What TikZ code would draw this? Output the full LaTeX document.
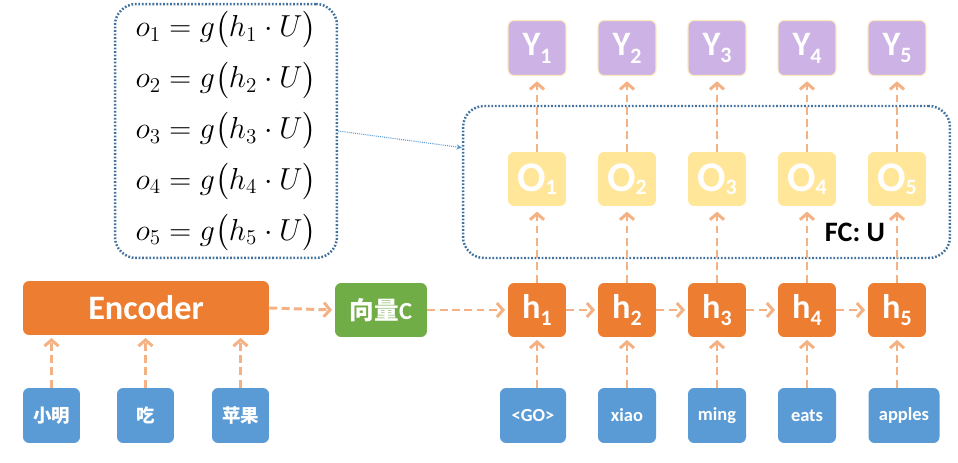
\documentclass[tikz,border=0pt]{standalone}
\usepackage{amsmath}
\usepackage{fontspec}
\usetikzlibrary{arrows.meta}
\newfontfamily\boxfont{Carlito}
\newfontfamily\cjk{Noto Sans CJK SC}
\definecolor{encorange}{HTML}{ED7D31}
\definecolor{vecgreen}{HTML}{70AD47}
\definecolor{wordblue}{HTML}{5B9BD5}
\definecolor{outpurple}{HTML}{CDB3E5}
\definecolor{outedge}{HTML}{FCE8BE}
\definecolor{fcyellow}{HTML}{FFE699}
\definecolor{flowpeach}{HTML}{F4B183}
\definecolor{groupblue}{HTML}{41719C}
\newcommand{\lowidx}[2]{\raisebox{-#1}{\fontsize{12.5}{14}\selectfont #2}}

\begin{document}
\begin{tikzpicture}[x=0.02cm, y=-0.02cm,
  cell/.style={rectangle, rounded corners=3.5pt, inner sep=0pt, minimum width=1.16cm, minimum height=1.08cm, text=white},
  hcell/.style={cell, fill=encorange, font=\fontsize{19.5}{22}\selectfont\boxfont\bfseries},
  ocell/.style={cell, fill=fcyellow, font=\fontsize{24}{26}\selectfont\boxfont\bfseries},
  ycell/.style={cell, fill=outpurple, draw=outedge, line width=0.6pt, minimum height=1.1cm, font=\fontsize{19.5}{22}\selectfont\boxfont\bfseries},
  wordcell/.style={cell, fill=wordblue, minimum width=1.14cm, minimum height=1.1cm, font=\fontsize{10.5}{12}\selectfont\boxfont\bfseries},
  flow/.style={draw=flowpeach, line width=1.7pt, dash pattern=on 4.5pt off 2.5pt, shorten >=1.5pt, -{Straight Barb[length=3.5pt, width=8pt]}},
  group/.style={draw=groupblue, line width=1.4pt, dash pattern=on 1pt off 1pt, rounded corners=12pt},
  pointer/.style={draw=wordblue, line width=0.6pt, dash pattern=on 0.6pt off 0.6pt, -{Stealth[length=3pt, width=3pt]}}
]
\useasboundingbox (0,0) rectangle (958,463);

% equations and the FC group
\node[group, inner sep=0pt, minimum width=4.44cm, minimum height=5.08cm, align=left, font=\fontsize{17.5}{20}\selectfont] (eqbox) at (226,131) {
  $o_1 = g\bigl(h_1 \cdot U\bigr)$\\[7.2pt]
  $o_2 = g\bigl(h_2 \cdot U\bigr)$\\[7.2pt]
  $o_3 = g\bigl(h_3 \cdot U\bigr)$\\[7.2pt]
  $o_4 = g\bigl(h_4 \cdot U\bigr)$\\[7.2pt]
  $o_5 = g\bigl(h_5 \cdot U\bigr)$
};
\node[group, minimum width=9.74cm, minimum height=3.04cm] (fcbox) at (706.5,182) {};
\node[font=\fontsize{16}{18}\selectfont\boxfont\bfseries] (fclabel) at (855,232) {FC: U};
\draw[pointer] (eqbox.east) -- (fcbox.172);

% encoder side
\node[cell, fill=encorange, minimum width=4.92cm, font=\fontsize{19.5}{22}\selectfont\boxfont\bfseries] (enc) at (146,308) {Encoder};
\node[cell, fill=vecgreen, minimum width=1.84cm, font=\fontsize{14}{16}\selectfont\boxfont\bfseries] (vec) at (381,310) {{\cjk 向量}C};
\node[wordcell] (w1) at (51.5,415.5) {\cjk 小明};
\node[wordcell] (w2) at (145.5,415.5) {\cjk 吃};
\node[wordcell] (w3) at (240.5,415.5) {\cjk 苹果};
\foreach \w in {w1,w2,w3}
  \draw[flow] (\w.north) -- (\w.north |- enc.south);
\draw[flow] (enc.east) -- (vec.west);

% decoder side
\foreach \i/\word/\bw/\cx in {1/{<GO>}/66/533, 2/xiao/58/627, 3/ming/58/717, 4/eats/58/807, 5/apples/71/904} {
  \node[ycell] (y\i) at ({537+90*(\i-1)},48) {Y\lowidx{4.5pt}{\i}};
  \node[ocell] (o\i) at ({537+90*(\i-1)},179) {O\lowidx{1.5pt}{\i}};
  \node[hcell] (h\i) at ({537+90*(\i-1)},310) {h\lowidx{4pt}{\i}};
  \node[wordcell, minimum width=\bw*0.02cm] (d\i) at (\cx,415.5) {\word};
  \draw[flow] (h\i |- d\i.north) -- (h\i.south);
  \draw[flow, shorten >=3pt] (h\i.north) -- (o\i.south);
  \draw[flow, shorten >=3pt] (o\i.north) -- (y\i.south);
}
\draw[flow] (vec.east) -- (h1.west);
\foreach \i/\j in {1/2,2/3,3/4,4/5}
  \draw[flow] (h\i.east) -- (h\j.west);
\end{tikzpicture}
\end{document}
